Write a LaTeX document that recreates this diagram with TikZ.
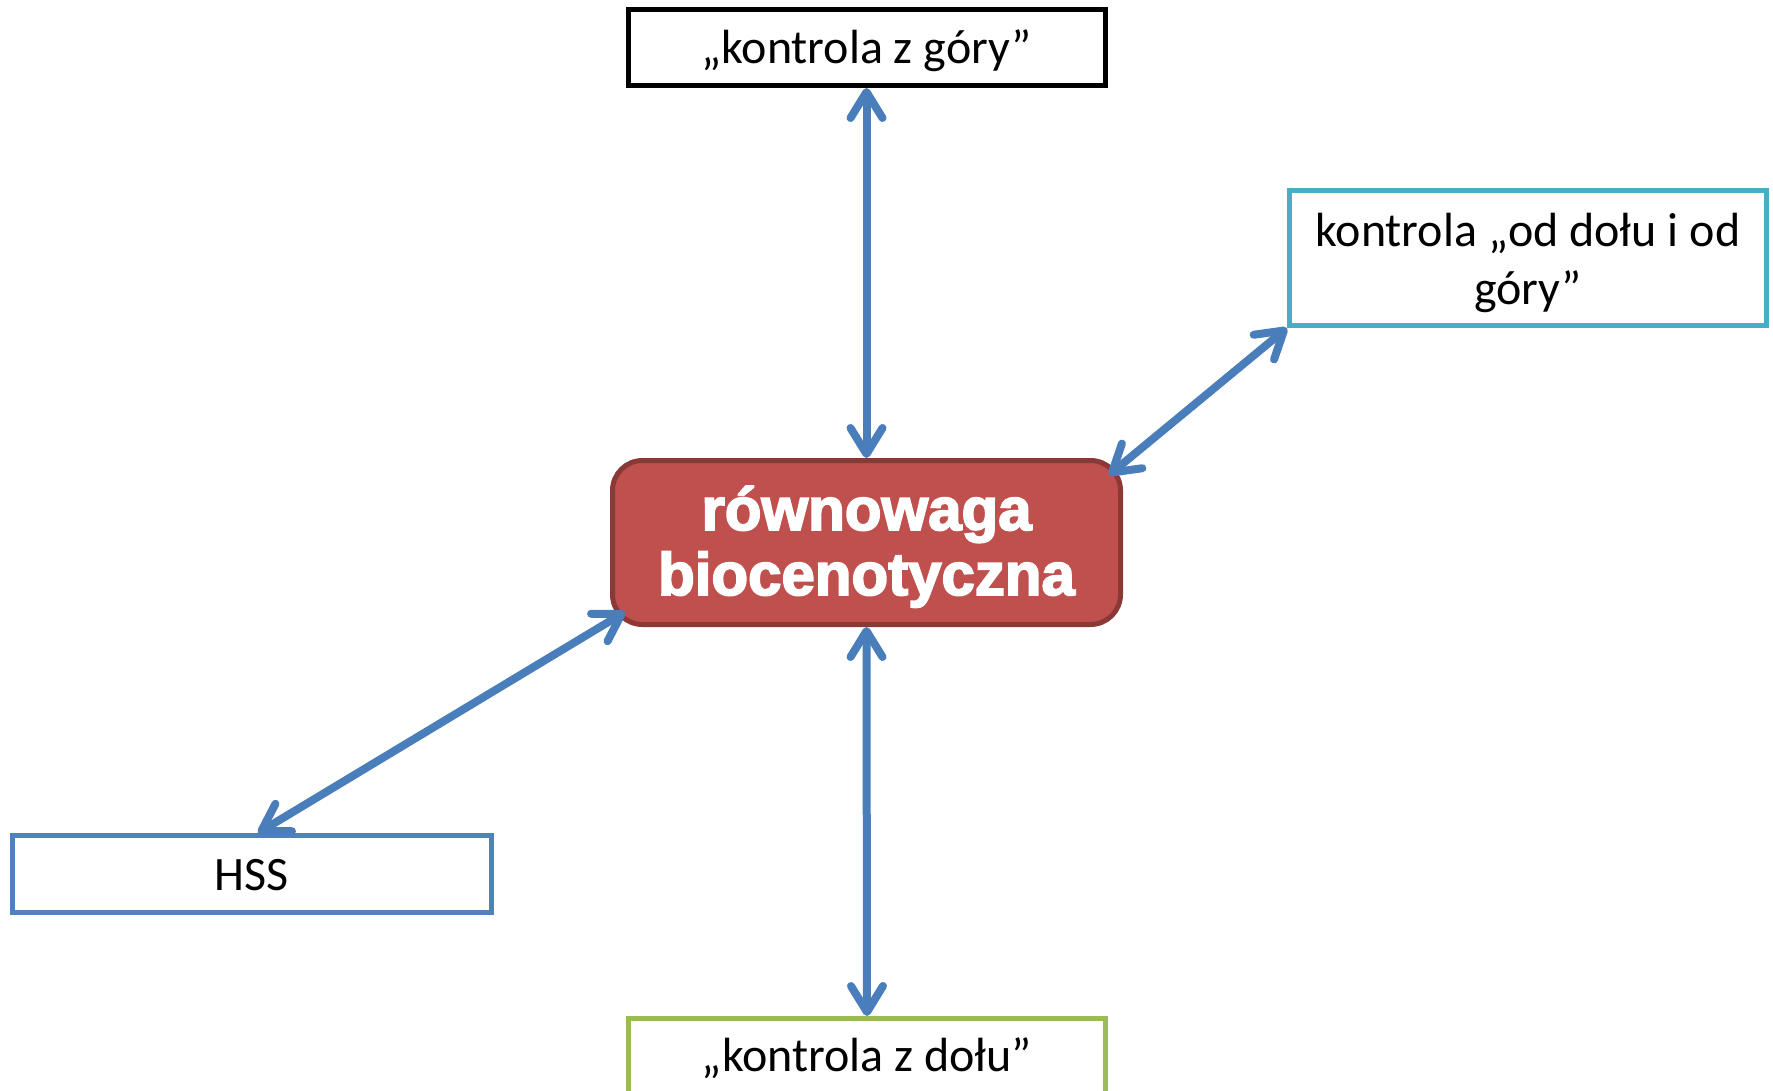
\documentclass[tikz,border=0pt]{standalone}
\usepackage{fontspec}
\setmainfont{Carlito}
\newfontfamily\boldsans[FakeBold=3]{Liberation Sans Bold}
\usetikzlibrary{arrows.meta,calc}
\definecolor{arrowblue}{HTML}{4A7EBB}
\definecolor{hssblue}{HTML}{4F81BD}
\definecolor{aqua}{HTML}{4BACC6}
\definecolor{olive}{HTML}{9BBB59}
\definecolor{redfill}{HTML}{C0504D}
\definecolor{redline}{HTML}{8C3836}
\tikzset{
  box/.style={draw, line width=5pt, minimum width=477pt, inner sep=0pt, fill=white,
    font=\fontsize{48}{58}\selectfont, align=center},
  arr/.style={draw=arrowblue, line width=8pt, line cap=round, <->},
  >={Straight Barb[length=26pt,width=32pt,round]}
}
\begin{document}
\begin{tikzpicture}[x=1pt,y=-1pt]
\useasboundingbox (0,0) rectangle (1773,1091);
\node[box, draw=black, minimum height=76pt, text height=33pt, text depth=0pt] (top) at (866.5,47.5) {„kontrola z góry”};
\node[box, draw=aqua, minimum height=135pt] (right) at (1528,258)
  {\raisebox{-6pt}[\height][\depth]{\renewcommand{\arraystretch}{1}\begin{tabular}{@{}c@{}}kontrola „od dołu i od\\ góry”\end{tabular}}};
\node[box, draw=hssblue, minimum width=479pt, minimum height=77pt, text height=33pt, text depth=0pt] (hss) at (252,874) {HSS};
\node[box, draw=olive, minimum height=76pt, text height=30pt, text depth=0pt] (bottom) at (867,1056.5) {„kontrola z dołu”};
\node[draw=redline, fill=redfill, line width=5pt, rounded corners=30pt, minimum width=508pt, minimum height=164pt, inner sep=0pt,
  text=white, font=\boldsans\fontsize{60}{65}\selectfont] (mid) at (866.5,542.5)
  {\raisebox{-7pt}[\height][\depth]{\renewcommand{\arraystretch}{1}\begin{tabular}{@{}c@{}}równowaga\\ biocenotyczna\end{tabular}}};
\coordinate (midne) at ($(mid.north east)+(-14,17)$);
\coordinate (midsw) at ($(mid.south west)+(15,-15)$);
\coordinate (hsstop) at ($(hss.north)+(6,0)$);
\draw[arr] (top.south) -- (mid.north);
\draw[arr] (mid.south) -- (bottom.north);
\draw[arr] (midne) -- (right.south west);
\draw[arr] (midsw) -- (hsstop);
\end{tikzpicture}
\end{document}
